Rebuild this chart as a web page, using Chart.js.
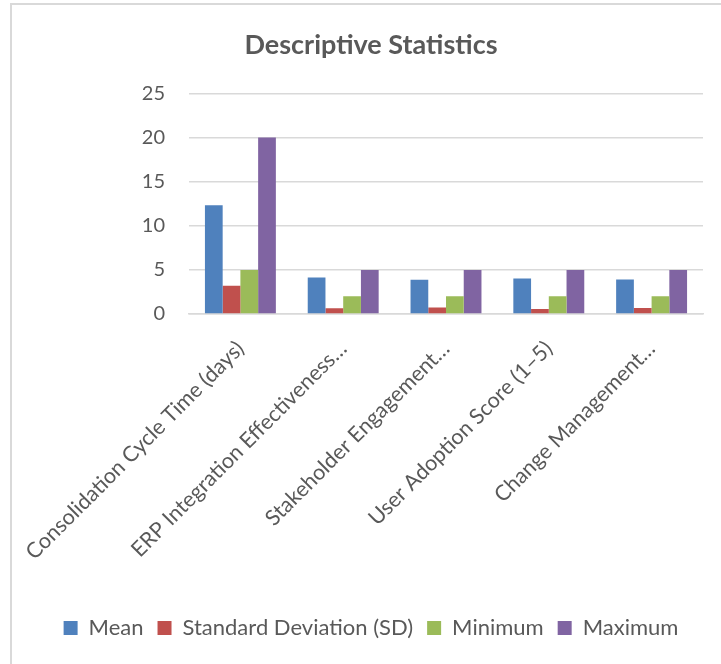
<!DOCTYPE html>
<html>
<head>
<meta charset="utf-8">
<script src="https://cdn.jsdelivr.net/npm/chart.js@4"></script>
<style>
  html, body { margin: 0; padding: 0; background: #fff; overflow: hidden; }
  #frame {
    position: absolute; left: 10px; top: 3px; width: 730px; height: 680px;
    border-left: 2px solid #d9d9d9; border-top: 2px solid #d9d9d9;
  }
  #wrap { position: absolute; left: 11px; top: 0; width: 720px; height: 664px; }
</style>
</head>
<body>
<div id="frame"></div>
<div id="wrap"><canvas id="chart"></canvas></div>
<script>
// データ
const categories = [
  'Consolidation Cycle Time (days)',
  'ERP Integration Effectiveness…',
  'Stakeholder Engagement…',
  'User Adoption Score (1–5)',
  'Change Management…'
];
const meanValues = [12.33, 4.14, 3.88, 4.03, 3.92];
const sdValues = [3.2, 0.64, 0.75, 0.57, 0.68];
const minValues = [5, 2, 2, 2, 2];
const maxValues = [20, 5, 5, 5, 5];
const yTicks = [0, 5, 10, 15, 20, 25];

const textColor = '#595959';
const fontFamily = 'Lato, "Open Sans", sans-serif';

const ctx = document.getElementById('chart').getContext('2d');
new Chart(ctx, {
  type: 'bar',
  data: {
    labels: categories,
    datasets: [
      { label: 'Mean', data: meanValues, backgroundColor: '#4f81bd' },
      { label: 'Standard Deviation (SD)', data: sdValues, backgroundColor: '#c0504d' },
      { label: 'Minimum', data: minValues, backgroundColor: '#9bbb59' },
      { label: 'Maximum', data: maxValues, backgroundColor: '#8064a2' }
    ]
  },
  options: {
    responsive: true,
    maintainAspectRatio: false,
    animation: false,
    layout: { padding: { left: 28, right: 28, top: 0, bottom: 15 } },
    datasets: { bar: { categoryPercentage: 0.69, barPercentage: 1.0 } },
    plugins: {
      title: {
        display: true,
        text: 'Descriptive Statistics',
        color: textColor,
        font: { family: fontFamily, size: 27, weight: 'bold' },
        padding: { top: 29, bottom: 32 }
      },
      legend: {
        position: 'bottom',
        labels: {
          color: textColor,
          font: { family: fontFamily, size: 22 },
          boxWidth: 14,
          boxHeight: 14,
          padding: 14
        }
      },
      tooltip: { enabled: false }
    },
    scales: {
      x: {
        grid: { display: false, drawTicks: false },
        border: { color: '#d9d9d9', width: 1.5 },
        ticks: {
          color: textColor,
          font: { family: fontFamily, size: 21.5 },
          maxRotation: 45,
          minRotation: 45,
          padding: 22
        },
        afterFit: s => {
          s.height = 289;
          s.paddingLeft = 0;
          s.paddingRight = 0;
        }
      },
      y: {
        min: 0,
        max: 25,
        afterBuildTicks: s => { s.ticks = yTicks.map(v => ({ value: v })); },
        grid: { color: '#d9d9d9', lineWidth: 1.5, drawTicks: false },
        border: { display: false },
        ticks: {
          color: textColor,
          font: { family: fontFamily, size: 20 },
          padding: 24
        },
        afterFit: s => { s.width = 150; }
      }
    }
  }
});
</script>
</body>
</html>
